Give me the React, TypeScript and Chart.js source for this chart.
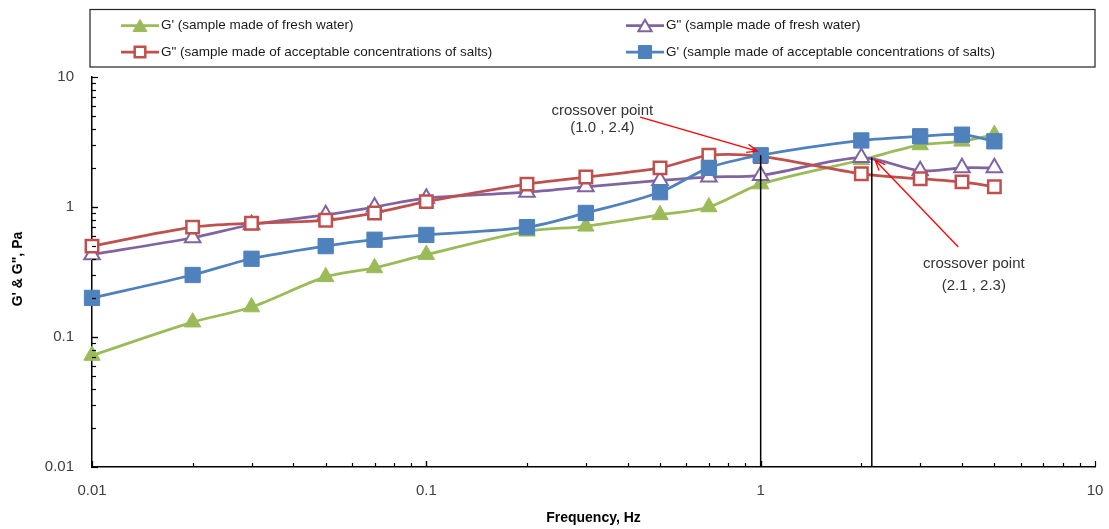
import React, { useEffect, useRef } from 'react';
import { Chart, registerables } from 'chart.js';

Chart.register(...registerables);

const FONT = "'Liberation Sans', Arial, sans-serif";

// ---- data ----
const frequencies = [0.01, 0.02, 0.03, 0.05, 0.07, 0.1, 0.2, 0.3, 0.5, 0.7, 1, 2, 3, 4, 5];
const gPrimeFresh = [0.072, 0.13, 0.17, 0.29, 0.34, 0.43, 0.65, 0.71, 0.87, 1.0, 1.5, 2.3, 3.0, 3.2, 3.6];
const gDoublePrimeFresh = [0.43, 0.58, 0.73, 0.87, 1.0, 1.17, 1.3, 1.43, 1.6, 1.7, 1.75, 2.4, 1.9, 2.0, 2.0];
const gDoublePrimeSalts = [0.5, 0.7, 0.75, 0.79, 0.9, 1.1, 1.5, 1.7, 2.0, 2.5, 2.45, 1.8, 1.65, 1.56, 1.43];
const gPrimeSalts = [0.2, 0.3, 0.4, 0.5, 0.56, 0.61, 0.7, 0.9, 1.3, 2.0, 2.5, 3.25, 3.5, 3.6, 3.2];

const seriesLabels = [
  "G' (sample made of fresh water)",
  'G" (sample made of fresh water)',
  'G" (sample made of acceptable concentrations of salts)',
  "G' (sample made of acceptable concentrations of salts)",
];

const xTickValues = [0.01, 0.1, 1, 10];
const yTickValues = [0.01, 0.1, 1, 10];
const xTitle = 'Frequency, Hz';
const yTitle = 'G\' & G", Pa';

// crossover annotations (data coordinates)
const crossoverLines = [
  { x: 1.0, top: 2.5 },
  { x: 2.15, top: 2.4 },
];
const crossoverNotes = [
  { textX: 0.336, line1Y: 5.5, line2Y: 4.05, label: '(1.0 , 2.4)', tailX: 0.436, tailY: 4.92, tipX: 0.976, tipY: 2.69 },
  { textX: 4.34, line1Y: 0.366, line2Y: 0.249, label: '(2.1 , 2.3)', tailX: 3.9, tailY: 0.492, tipX: 2.2, tipY: 2.29 },
];

const toPoints = (arr: number[]) => frequencies.map((f, i) => ({ x: f, y: arr[i] }));

function markerPath(ctx: CanvasRenderingContext2D, style: string, x: number, y: number, r: number) {
  ctx.beginPath();
  if (style === 'triangle') {
    const s = Math.sin(Math.PI / 3) * r;
    ctx.moveTo(x, y - r);
    ctx.lineTo(x + s, y + r / 2);
    ctx.lineTo(x - s, y + r / 2);
    ctx.closePath();
  } else {
    const s = Math.SQRT1_2 * r;
    ctx.rect(x - s, y - s, 2 * s, 2 * s);
  }
}

const decorPlugin = {
  id: 'decor',
  afterDatasetsDraw(chart: any) {
    const { ctx, chartArea } = chart;
    const xs = chart.scales.x;
    const ys = chart.scales.y;
    ctx.save();

    // inward ticks
    ctx.strokeStyle = '#000';
    ctx.lineWidth = 1.2;
    for (let d = -2; d <= 0; d++) {
      for (let k = 1; k <= 10; k++) {
        const v = k * Math.pow(10, d);
        const len = k === 1 || k === 10 ? 6 : 4;
        const px = Math.round(xs.getPixelForValue(v)) + 0.5;
        ctx.beginPath();
        ctx.moveTo(px, chartArea.bottom);
        ctx.lineTo(px, chartArea.bottom - len);
        ctx.stroke();
        const py = Math.round(ys.getPixelForValue(v)) + 0.5;
        ctx.beginPath();
        ctx.moveTo(chartArea.left, py);
        ctx.lineTo(chartArea.left + len, py);
        ctx.stroke();
      }
    }

    // vertical crossover lines
    ctx.strokeStyle = '#000';
    ctx.lineWidth = 1.5;
    crossoverLines.forEach((l) => {
      const px = xs.getPixelForValue(l.x);
      ctx.beginPath();
      ctx.moveTo(px, ys.getPixelForValue(l.top));
      ctx.lineTo(px, chartArea.bottom);
      ctx.stroke();
    });

    // annotation text + arrows
    ctx.font = `15px ${FONT}`;
    ctx.fillStyle = '#333';
    ctx.textAlign = 'center';
    ctx.textBaseline = 'middle';
    crossoverNotes.forEach((n) => {
      const tx = xs.getPixelForValue(n.textX);
      ctx.fillText('crossover point', tx, ys.getPixelForValue(n.line1Y));
      ctx.fillText(n.label, tx, ys.getPixelForValue(n.line2Y));
      const x0 = xs.getPixelForValue(n.tailX);
      const y0 = ys.getPixelForValue(n.tailY);
      const x1 = xs.getPixelForValue(n.tipX);
      const y1 = ys.getPixelForValue(n.tipY);
      ctx.strokeStyle = '#ff0000';
      ctx.lineWidth = 1.3;
      ctx.beginPath();
      ctx.moveTo(x0, y0);
      ctx.lineTo(x1, y1);
      ctx.stroke();
      const ang = Math.atan2(y1 - y0, x1 - x0);
      const hl = 11;
      ctx.beginPath();
      ctx.moveTo(x1 - hl * Math.cos(ang - 0.4), y1 - hl * Math.sin(ang - 0.4));
      ctx.lineTo(x1, y1);
      ctx.lineTo(x1 - hl * Math.cos(ang + 0.4), y1 - hl * Math.sin(ang + 0.4));
      ctx.stroke();
    });

    // axis titles
    ctx.fillStyle = '#000';
    ctx.font = `bold 14px ${FONT}`;
    ctx.textAlign = 'center';
    ctx.textBaseline = 'middle';
    ctx.fillText(xTitle, (chartArea.left + chartArea.right) / 2, 518);
    ctx.save();
    ctx.translate(18.5, (chartArea.top + chartArea.bottom) / 2 - 3);
    ctx.rotate(-Math.PI / 2);
    ctx.fillText(yTitle, 0, 0);
    ctx.restore();

    // legend
    const boxL = 90, boxT = 9.5, boxR = 1095, boxB = 67;
    ctx.fillStyle = '#fff';
    ctx.fillRect(boxL, boxT, boxR - boxL, boxB - boxT);
    ctx.strokeStyle = '#222';
    ctx.lineWidth = 1.2;
    ctx.strokeRect(boxL, boxT, boxR - boxL, boxB - boxT);
    const cols = [121, 626];
    const rows = [25.5, 52];
    ctx.font = `13.5px ${FONT}`;
    ctx.textAlign = 'left';
    ctx.textBaseline = 'middle';
    chart.data.datasets.forEach((ds: any, i: number) => {
      const cx = cols[i % 2];
      const cy = rows[Math.floor(i / 2)];
      ctx.strokeStyle = ds.borderColor;
      ctx.lineWidth = ds.borderWidth;
      ctx.beginPath();
      ctx.moveTo(cx, cy);
      ctx.lineTo(cx + 38, cy);
      ctx.stroke();
      markerPath(ctx, ds.pointStyle, cx + 19, cy + (ds.pointStyle === 'triangle' ? 2 : 0), ds.pointRadius * 0.85);
      ctx.fillStyle = ds.pointBackgroundColor;
      ctx.fill();
      ctx.strokeStyle = ds.pointBorderColor;
      ctx.lineWidth = ds.pointBorderWidth;
      ctx.stroke();
      ctx.fillStyle = '#1a1a1a';
      ctx.fillText(ds.label, cx + 40, cy);
    });

    ctx.restore();
  },
};

export default function App() {
  const ref = useRef<HTMLCanvasElement | null>(null);

  useEffect(() => {
    if (!ref.current) return;
    const common = { tension: 0.3, borderWidth: 2.75, clip: false as any, fill: false };
    const chart = new Chart(ref.current, {
      type: 'line',
      data: {
        datasets: [
          {
            ...common,
            label: seriesLabels[0],
            data: toPoints(gPrimeFresh),
            borderColor: '#9BBB59',
            pointStyle: 'triangle',
            pointRadius: 9.5,
            pointBackgroundColor: '#9BBB59',
            pointBorderColor: '#9BBB59',
            pointBorderWidth: 1,
            order: 4,
          },
          {
            ...common,
            label: seriesLabels[1],
            data: toPoints(gDoublePrimeFresh),
            borderColor: '#8064A2',
            pointStyle: 'triangle',
            pointRadius: 9,
            pointBackgroundColor: '#ffffff',
            pointBorderColor: '#8064A2',
            pointBorderWidth: 2,
            order: 3,
          },
          {
            ...common,
            label: seriesLabels[2],
            data: toPoints(gDoublePrimeSalts),
            borderColor: '#C0504D',
            pointStyle: 'rect',
            pointRadius: 8.8,
            pointBackgroundColor: '#ffffff',
            pointBorderColor: '#C0504D',
            pointBorderWidth: 2.5,
            order: 2,
          },
          {
            ...common,
            label: seriesLabels[3],
            data: toPoints(gPrimeSalts),
            borderColor: '#4F81BD',
            pointStyle: 'rect',
            pointRadius: 10.8,
            pointBackgroundColor: '#4F81BD',
            pointBorderColor: '#4F81BD',
            pointBorderWidth: 1,
            order: 1,
          },
        ] as any,
      },
      options: {
        animation: false,
        responsive: true,
        maintainAspectRatio: false,
        layout: { padding: { top: 77, right: 14, left: 0, bottom: 0 } },
        plugins: {
          legend: { display: false },
          tooltip: { enabled: false },
        },
        scales: {
          x: {
            type: 'logarithmic',
            min: 0.01,
            max: 10,
            afterBuildTicks: (s: any) => {
              s.ticks = xTickValues.map((v) => ({ value: v }));
            },
            afterFit: (s: any) => {
              s.height = 62;
              s.paddingLeft = 0;
              s.paddingRight = 0;
            },
            ticks: {
              callback: (v: any) => String(v),
              font: { family: FONT, size: 15 },
              color: '#404040',
              padding: 15,
              maxRotation: 0,
              autoSkip: false,
            },
            grid: { display: false, drawTicks: false },
            border: { display: true, color: '#000', width: 1.5 },
          },
          y: {
            type: 'logarithmic',
            min: 0.01,
            max: 10,
            afterBuildTicks: (s: any) => {
              s.ticks = yTickValues.map((v) => ({ value: v }));
            },
            afterFit: (s: any) => {
              s.width = 92;
              s.paddingTop = 0;
              s.paddingBottom = 0;
            },
            ticks: {
              callback: (v: any) => String(v),
              font: { family: FONT, size: 15 },
              color: '#404040',
              padding: 18,
              autoSkip: false,
            },
            grid: { display: false, drawTicks: false },
            border: { display: true, color: '#000', width: 1.5 },
          },
        },
      } as any,
      plugins: [decorPlugin],
    });
    return () => chart.destroy();
  }, []);

  return (
    <div style={{ position: 'absolute', left: 0, top: 0, width: 1109, height: 529, background: '#fff' }}>
      <canvas ref={ref} />
    </div>
  );
}
